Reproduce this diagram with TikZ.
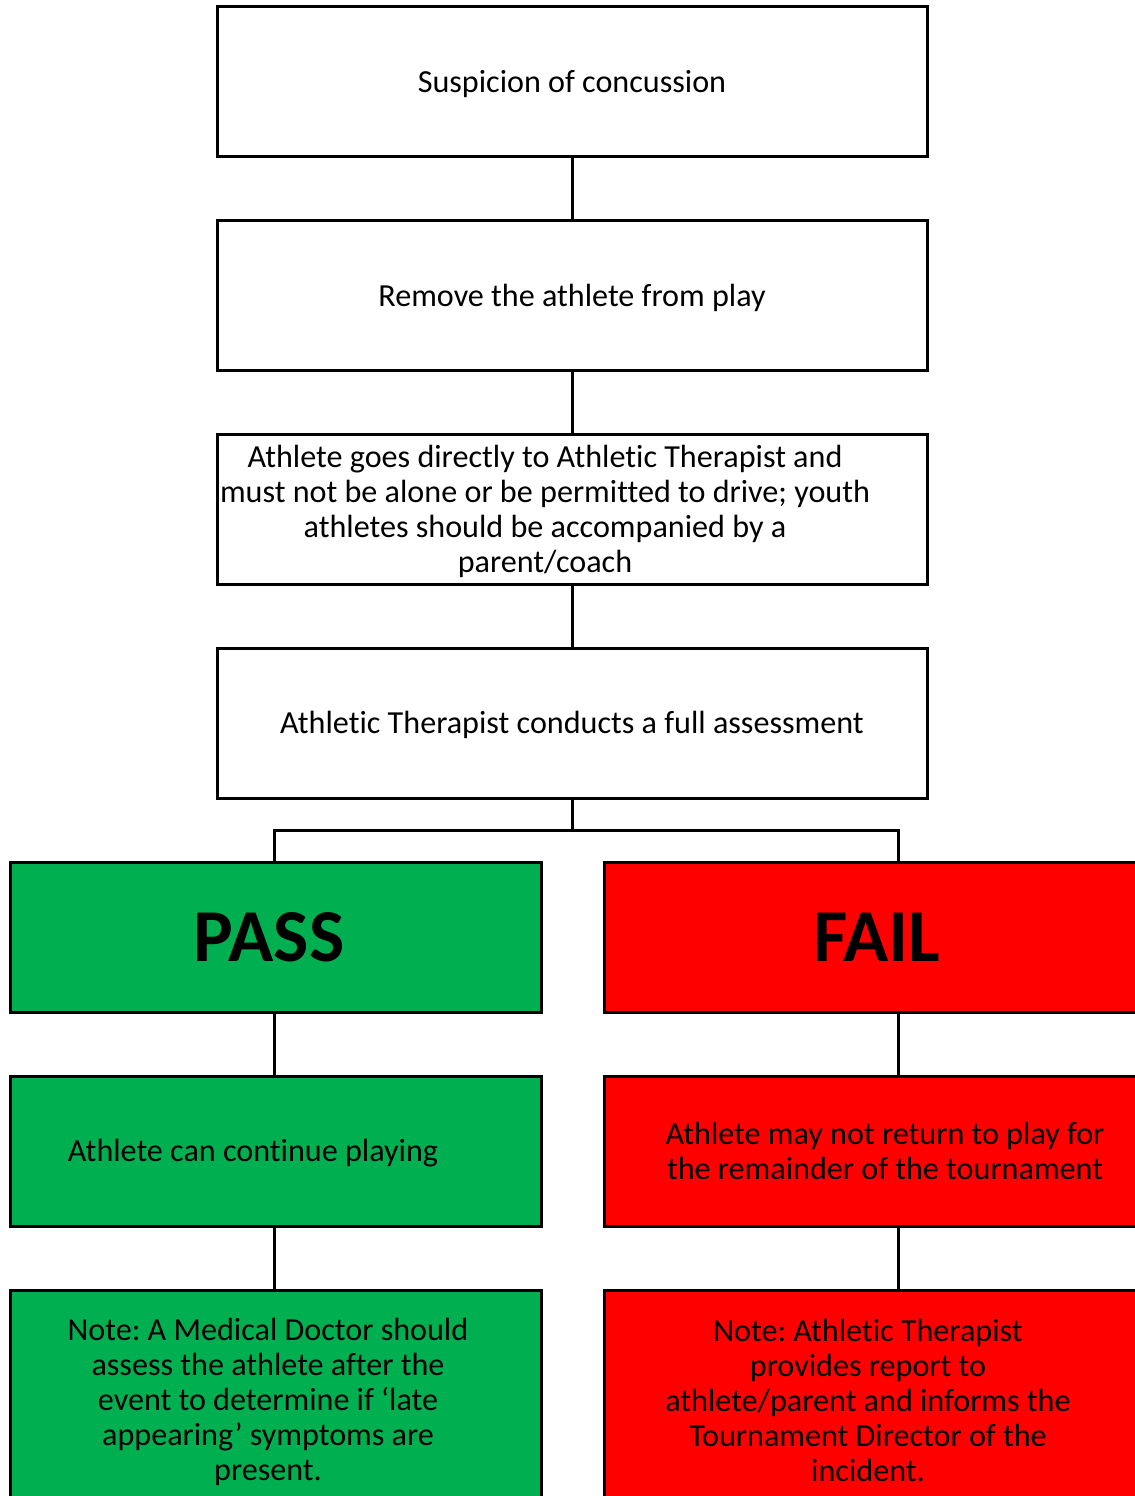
\documentclass[tikz,border=0pt]{standalone}
\usepackage{fontspec}
\setmainfont{Carlito}[Ligatures=NoCommon]
\definecolor{passgreen}{HTML}{00B050}
\definecolor{failred}{HTML}{FF0000}
\tikzset{
  box/.style={draw=black, line width=2.25pt, rectangle, inner sep=0pt, outer sep=0pt},
  wbox/.style={box, fill=white, minimum width=532.5pt, minimum height=112.5pt},
  gbox/.style={box, fill=passgreen, minimum width=398.25pt},
  rbox/.style={box, fill=failred, minimum width=409.5pt},
  txt/.style={align=center, inner sep=0pt, font=\fontsize{24.1}{26.25}\selectfont\frenchspacing},
  big/.style={inner sep=0pt, font=\fontsize{56}{60}\selectfont\bfseries},
  conn/.style={draw=black, line width=2.25pt}
}
\begin{document}
\begin{tikzpicture}[x=0.75pt, y=-0.75pt]
\useasboundingbox (0,0) rectangle (1135,1496);
% main boxes
\node[wbox] (b1) at (572.5,81.5) {};
\node[wbox] (b2) at (572.5,295.5) {};
\node[wbox] (b3) at (572.5,509.5) {};
\node[wbox] (b4) at (572.5,723) {};
\node[txt] (t1) at (572,84) {Suspicion of concussion};
\node[txt] (t2) at (572,298) {Remove the athlete from play};
\node[txt] (t3) at (545,511) {Athlete goes directly to Athletic Therapist and\\must not be alone or be permitted to drive; youth\\athletes should be accompanied by a\\parent/coach};
\node[txt] (t4) at (572,725) {Athletic Therapist conducts a full assessment};
% outcome boxes
\node[gbox, minimum height=112.5pt] (pass) at (275.5,937) {};
\node[rbox, minimum height=112.5pt] (fail) at (877,937) {};
\node[big] (tp) at (269,937) {PASS};
\node[big] (tf) at (877,937) {FAIL};
\node[gbox, minimum height=112.5pt] (cont) at (275.5,1151) {};
\node[rbox, minimum height=112.5pt] (norp) at (877,1151) {};
\node[txt] (tc) at (253,1153) {Athlete can continue playing};
\node[txt] (tn) at (885,1151) {Athlete may not return to play for\\the remainder of the tournament};
\node[gbox, minimum height=172.5pt] (noteg) at (275.5,1405) {};
\node[rbox, minimum height=172.5pt] (noter) at (877,1405) {};
\node[txt] (tng) at (268,1402) {Note: A Medical Doctor should\\assess the athlete after the\\event to determine if ‘late\\appearing’ symptoms are\\present.};
\node[txt] (tnr) at (868,1400) {Note: Athletic Therapist\\provides report to\\athlete/parent and informs the\\Tournament Director of the\\incident.};
% connectors
\coordinate (j) at (572.5,830);
\coordinate (pl) at (274,862);
\coordinate (fl) at (898,862);
\draw[conn] (b1.south) -- (b2.north);
\draw[conn] (b2.south) -- (b3.north);
\draw[conn] (b3.south) -- (b4.north);
\draw[conn] (b4.south) -- (j);
\draw[conn] (pass.north -| pl) -- (pl|-j) -- (fl|-j) -- (fail.north -| fl);
\draw[conn] (pass.south -| pl) -- (cont.north -| pl);
\draw[conn] (fail.south -| fl) -- (norp.north -| fl);
\draw[conn] (cont.south -| pl) -- (noteg.north -| pl);
\draw[conn] (norp.south -| fl) -- (noter.north -| fl);
\end{tikzpicture}
\end{document}
